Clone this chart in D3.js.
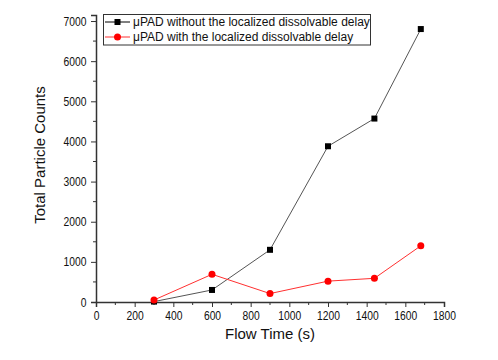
<!DOCTYPE html>
<html><head><meta charset="utf-8">
<script src="https://cdn.jsdelivr.net/npm/d3@7"></script>
<style>
body{margin:0;background:#fff;}
svg{display:block;font-family:"Liberation Sans",Arial,sans-serif;}
</style></head>
<body><svg id="c" width="498" height="360"></svg>
<script>
const flowTime = [300, 600, 900, 1200, 1440, 1680];
const withoutDelay = [10, 300, 1300, 3880, 4570, 6800];
const withDelay = [50, 690, 210, 520, 590, 1400];
const seriesNames = ["\u03bcPAD without the localized dissolvable delay", "\u03bcPAD with the localized dissolvable delay"];
const xTicks = [0, 200, 400, 600, 800, 1000, 1200, 1400, 1600, 1800];
const yTicks = [0, 1000, 2000, 3000, 4000, 5000, 6000, 7000];

const svg = d3.select("#c");
const L = 96, R = 444, T = 15, B = 302;
const x = d3.scaleLinear().domain([0, 1800]).range([L, R]);
const y = d3.scaleLinear().domain([0, 7150]).range([B, T]);

const axisColor = "#333";
const gx = svg.append("g").attr("transform", `translate(0,${B})`);
gx.call(d3.axisBottom(x).tickValues(xTicks).tickSize(5).tickPadding(4).tickFormat(d3.format("d")));
gx.selectAll("line.minor").data(d3.range(100, 1800, 200)).enter().append("line")
  .attr("class", "minor").attr("x1", d => x(d)).attr("x2", d => x(d)).attr("y1", 0).attr("y2", 3)
  .attr("stroke", axisColor);
const gy = svg.append("g").attr("transform", `translate(${L},0)`);
gy.call(d3.axisLeft(y).tickValues(yTicks).tickSize(5).tickPadding(6).tickFormat(d3.format("d")));
gy.selectAll("line.minor").data(d3.range(500, 7100, 1000)).enter().append("line")
  .attr("class", "minor").attr("y1", d => y(d)).attr("y2", d => y(d)).attr("x1", 0).attr("x2", -3)
  .attr("stroke", axisColor);

[gx, gy].forEach(g => {
  g.select(".domain").attr("stroke", axisColor).attr("stroke-width", 1.5);
  g.selectAll(".tick line").attr("stroke", axisColor).attr("stroke-width", 1);
  g.selectAll(".tick text").attr("fill", "#111").style("font-size", "12px")
   .style("font-family", '"Liberation Sans",Arial,sans-serif');
});
gx.selectAll(".tick text").attr("transform", "scale(0.86,1)");
gy.selectAll(".tick text").attr("transform", "scale(0.86,1)").attr("dy", "0.34em");

svg.append("text").attr("x", 270).attr("y", 339).attr("text-anchor", "middle")
  .style("font-size", "15px").attr("fill", "#111").text("Flow Time (s)");
svg.append("text").attr("transform", `translate(45,155) rotate(-90)`).attr("text-anchor", "middle")
  .style("font-size", "15px").attr("fill", "#111").text("Total Particle Counts");

const line = d3.line().x((d, i) => x(flowTime[i])).y(d => y(d));
svg.append("path").datum(withoutDelay).attr("d", line).attr("fill", "none").attr("stroke", "#555").attr("stroke-width", 1);
svg.append("path").datum(withDelay).attr("d", line).attr("fill", "none").attr("stroke", "#ff3030").attr("stroke-width", 1);
svg.selectAll("rect.pt").data(withoutDelay).enter().append("rect").attr("class", "pt")
  .attr("x", (d, i) => x(flowTime[i]) - 3).attr("y", d => y(d) - 3).attr("width", 6).attr("height", 6).attr("fill", "#000");
svg.selectAll("circle.pt").data(withDelay).enter().append("circle").attr("class", "pt")
  .attr("cx", (d, i) => x(flowTime[i])).attr("cy", d => y(d)).attr("r", 3.5).attr("fill", "#ff0000");

const lg = svg.append("g");
lg.append("rect").attr("x", 103.5).attr("y", 14.5).attr("width", 267).attr("height", 30.5)
  .attr("fill", "#fff").attr("stroke", "#333").attr("stroke-width", 1);
const rows = [22, 37];
seriesNames.forEach((name, i) => {
  const yy = rows[i];
  lg.append("line").attr("x1", 105).attr("x2", 130).attr("y1", yy).attr("y2", yy)
    .attr("stroke", i === 0 ? "#000" : "#ff3030").attr("stroke-width", 1);
  if (i === 0) lg.append("rect").attr("x", 114.5).attr("y", yy - 3).attr("width", 6).attr("height", 6).attr("fill", "#000");
  else lg.append("circle").attr("cx", 117.5).attr("cy", yy).attr("r", 3.5).attr("fill", "#ff0000");
  lg.append("text").attr("x", 133).attr("y", yy + 4.2).style("font-size", "12px").attr("fill", "#111").text(name);
});
</script></body></html>
